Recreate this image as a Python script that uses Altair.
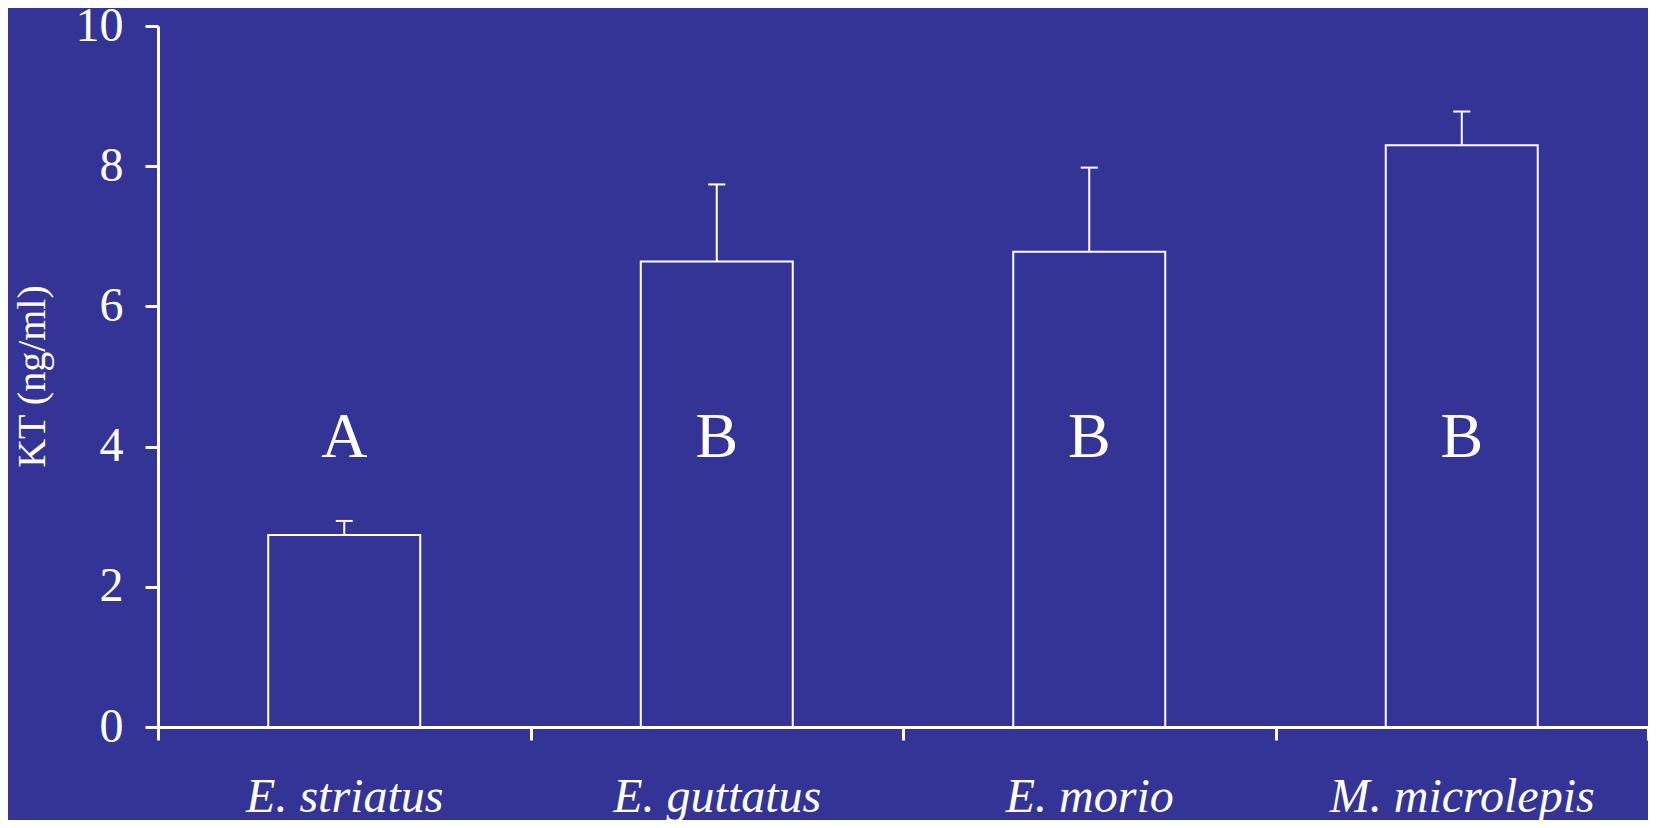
import altair as alt
import pandas as pd

species = ["E. striatus", "E. guttatus", "E. morio", "M. microlepis"]
means = [2.74, 6.64, 6.78, 8.30]
errors = [0.20, 1.10, 1.20, 0.48]
letters = ["A", "B", "B", "B"]
letter_pos = [3.85, 3.85, 3.85, 3.85]
y_ticks = [0, 2, 4, 6, 8, 10]

BG = "#343497"
FONT = "Liberation Serif"

df = pd.DataFrame({
    "species": species,
    "mean": means,
    "err": errors,
    "letter": letters,
    "lpos": letter_pos,
})

x_enc = alt.X(
    "species:N",
    sort=species,
    scale=alt.Scale(paddingInner=0, paddingOuter=0),
    axis=alt.Axis(
        title=None,
        tickBand="extent",
        labelAngle=0,
        labelFont=FONT,
        labelFontStyle="italic",
        labelFontSize=48,
        labelColor="white",
        labelBaseline="alphabetic",
        labelPadding=71,
        labelLimit=0,
        tickSize=13,
        tickWidth=3,
        tickColor="white",
        domainColor="white",
        domainWidth=3,
        grid=False,
    ),
)

y_scale = alt.Scale(domain=[0, 10], nice=False)

base = alt.Chart(df)

bars = base.mark_bar(
    width=alt.RelativeBandSize(0.408),
    fill=BG,
    stroke="white",
    strokeWidth=2,
).encode(
    x=x_enc,
    y=alt.Y(
        "mean:Q",
        scale=y_scale,
        axis=alt.Axis(
            title="KT (ng/ml)",
            titleFont=FONT,
            titleFontSize=40,
            titleFontWeight="normal",
            titleColor="white",
            titleAngle=-90,
            titleX=-126,
            titleY=350,
            titleAlign="center",
            titleBaseline="middle",
            values=y_ticks,
            format="d",
            labelFont=FONT,
            labelFontSize=48,
            labelColor="white",
            labelPadding=22,
            tickSize=13,
            tickWidth=3,
            tickColor="white",
            domainColor="white",
            domainWidth=3,
            grid=False,
        ),
    ),
)

whiskers = base.transform_calculate(top="datum.mean + datum.err").mark_rule(
    color="white", strokeWidth=2
).encode(
    x=alt.X("species:N", sort=species),
    y=alt.Y("mean:Q", scale=y_scale),
    y2="top:Q",
)

caps = base.transform_calculate(top="datum.mean + datum.err").mark_tick(
    color="white", thickness=2, size=17, opacity=1
).encode(
    x=alt.X("species:N", sort=species),
    y=alt.Y("top:Q", scale=y_scale),
)

labels = base.mark_text(
    font=FONT,
    fontSize=64,
    color="white",
    baseline="alphabetic",
    align="center",
).encode(
    x=alt.X("species:N", sort=species),
    y=alt.Y("lpos:Q", scale=y_scale),
    text="letter:N",
)

chart = (
    alt.layer(bars, whiskers, caps, labels)
    .properties(
        width=1490,
        height=701,
        background=BG,
        autosize=alt.AutoSizeParams(type="none"),
        padding={"left": 150, "top": 18, "right": 0, "bottom": 93},
    )
    .configure_view(stroke=None)
)

chart.save("out.html", embed_options={"renderer": "svg", "actions": False})
